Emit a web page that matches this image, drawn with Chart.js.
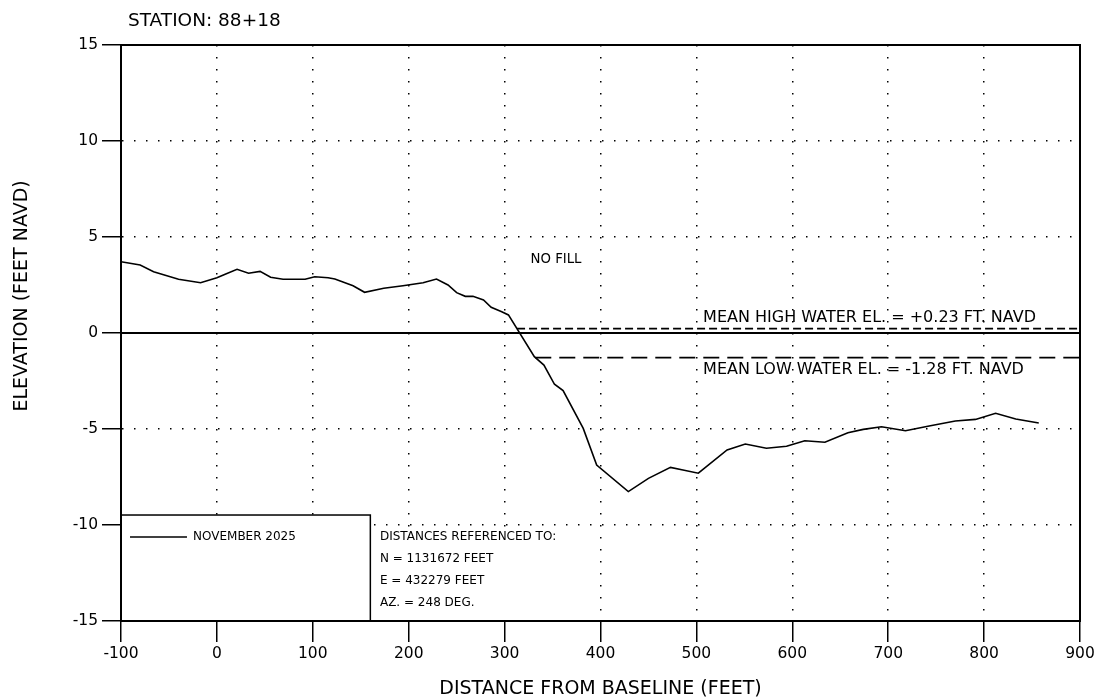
<!DOCTYPE html>
<html>
<head>
<meta charset="utf-8">
<script src="https://cdn.jsdelivr.net/npm/chart.js@4.4.0/dist/chart.umd.min.js"></script>
<style>
  body { margin: 0; background: #fff; }
  canvas { display: block; }
</style>
</head>
<body>
<canvas id="profile" width="1102" height="700"></canvas>
<script>
// profile survey (distance from baseline, elevation)
var distance = [-100, -80, -66, -40, -17, 0, 8, 21, 33, 45, 56, 69, 92, 102, 116, 123, 142, 154, 174, 194,
  215, 229, 241, 250, 259, 267, 278, 286, 297, 304, 331, 341, 352, 361, 382, 396, 429, 450, 473, 486,
  502, 532, 551, 573, 594, 613, 634, 658, 674, 693, 718, 744, 770, 791, 812, 833, 857];
var elevation = [3.71, 3.54, 3.19, 2.8, 2.62, 2.88, 3.05, 3.32, 3.11, 3.21, 2.9, 2.8, 2.8, 2.93, 2.88, 2.81, 2.46, 2.12, 2.33, 2.46,
  2.62, 2.81, 2.5, 2.1, 1.91, 1.91, 1.72, 1.34, 1.11, 0.94, -1.23, -1.67, -2.67, -3.0, -4.97, -6.88, -8.26, -7.57, -7.0, -7.14,
  -7.3, -6.09, -5.78, -6.0, -5.9, -5.61, -5.69, -5.19, -5.02, -4.88, -5.09, -4.83, -4.58, -4.5, -4.18, -4.48, -4.69];

// water levels
var mhwElev = 0.23;
var mhwFrom = 313;
var mlwElev = -1.28;
var mlwFrom = 332;

// axes
var xMin = -100, xMax = 900, xStep = 100;
var yMin = -15, yMax = 15, yStep = 5;

var stationLabel = 'STATION: 88+18';
var surveyLabel = 'NOVEMBER 2025';
var refLines = ['DISTANCES REFERENCED TO:', 'N = 1131672 FEET', 'E = 432279 FEET', 'AZ. = 248 DEG.'];
var mhwText = 'MEAN HIGH WATER EL. = +0.23 FT. NAVD';
var mlwText = 'MEAN LOW WATER EL. = -1.28 FT. NAVD';
var fillText = 'NO FILL';
var yTitle = 'ELEVATION (FEET NAVD)';

const FONT = '"DejaVu Sans", Verdana, sans-serif';

var profilePts = distance.map((d, i) => ({ x: d, y: elevation[i] }));

// labels, legend box and frame
const extras = {
  id: 'extras',
  afterDatasetsDraw(chart) {
    const c = chart.ctx;
    const xs = chart.scales.x, ys = chart.scales.y;
    const area = chart.chartArea;
    const X = v => xs.getPixelForValue(v);
    const Y = v => ys.getPixelForValue(v);
    c.save();
    c.fillStyle = '#000';
    c.textBaseline = 'middle';
    c.textAlign = 'left';

    c.font = '13.3px ' + FONT;
    c.fillText(fillText, X(327), Y(3.85));

    c.font = '16px ' + FONT;
    c.fillText(mhwText, X(507), Y(0.78));
    c.fillText(mlwText, X(507), Y(-1.93));

    // blank area behind the reference notes (keeps the -10 row)
    c.fillStyle = '#fff';
    c.fillRect(X(160), Y(-10) + 4, X(395) - X(160), area.bottom - Y(-10) - 5);

    // legend box
    const bx0 = X(-100), bx1 = X(160), by0 = Y(-9.48), by1 = Y(-15);
    c.fillRect(bx0, by0, bx1 - bx0, by1 - by0);
    c.strokeStyle = '#000';
    c.lineWidth = 1.5;
    c.strokeRect(bx0, by0, bx1 - bx0, by1 - by0);
    c.fillStyle = '#000';
    c.beginPath();
    c.lineWidth = 1.5;
    c.moveTo(X(-90.6), Y(-10.63));
    c.lineTo(X(-31.2), Y(-10.63));
    c.stroke();
    c.font = '12px ' + FONT;
    c.fillText(surveyLabel, X(-24.9), Y(-10.63));

    const rowY = [-10.63, -11.77, -12.92, -14.06];
    refLines.forEach((t, i) => c.fillText(t, X(170), Y(rowY[i])));

    // frame
    c.lineWidth = 2;
    c.strokeRect(area.left, area.top, area.right - area.left, area.bottom - area.top);

    c.font = '18.5px ' + FONT;
    c.fillText(stationLabel, area.left + 7, area.top - 24);

    // y axis title, sits a bit above the middle
    c.font = '19px ' + FONT;
    c.textAlign = 'center';
    c.translate(area.left - 99, Y(1.93));
    c.rotate(-Math.PI / 2);
    c.fillText(yTitle, 0, 0);
    c.restore();
  }
};

new Chart('profile', {
  type: 'line',
  data: {
    datasets: [
      {
        label: surveyLabel,
        data: profilePts,
        borderColor: '#000',
        borderWidth: 1.6,
        pointRadius: 0,
        tension: 0
      },
      {
        label: 'zero',
        data: [{ x: xMin, y: 0 }, { x: xMax, y: 0 }],
        borderColor: '#000',
        borderWidth: 2,
        pointRadius: 0
      },
      {
        label: 'MHW',
        data: [{ x: mhwFrom, y: mhwElev }, { x: xMax, y: mhwElev }],
        borderColor: '#000',
        borderWidth: 1.8,
        borderDash: [8, 4],
        pointRadius: 0
      },
      {
        label: 'MLW',
        data: [{ x: mlwFrom, y: mlwElev }, { x: xMax, y: mlwElev }],
        borderColor: '#000',
        borderWidth: 1.8,
        borderDash: [16, 8],
        pointRadius: 0
      }
    ]
  },
  options: {
    responsive: false,
    animation: false,
    layout: { padding: { top: 45, right: 22, left: 0, bottom: 0 } },
    plugins: {
      legend: { display: false },
      tooltip: { enabled: false }
    },
    scales: {
      x: {
        type: 'linear',
        min: xMin,
        max: xMax,
        afterFit: s => { s.height = 79; },
        ticks: {
          stepSize: xStep,
          color: '#000',
          padding: 3,
          maxRotation: 0,
          font: { family: FONT, size: 15.5 }
        },
        grid: {
          color: '#000',
          lineWidth: 1.5,
          tickLength: 21,
          tickColor: '#000',
          tickWidth: 1.5,
          tickBorderDash: []
        },
        border: { display: true, color: '#000', width: 2, dash: [1.5, 10.5] },
        title: {
          display: true,
          text: 'DISTANCE FROM BASELINE (FEET)',
          color: '#000',
          padding: 0,
          font: { family: FONT, size: 19 }
        }
      },
      y: {
        type: 'linear',
        min: yMin,
        max: yMax,
        afterFit: s => { s.width = 121; },
        ticks: {
          stepSize: yStep,
          color: '#000',
          padding: 4,
          font: { family: FONT, size: 15.5 }
        },
        grid: {
          color: ctx => (ctx.tick && ctx.tick.value === 0 ? 'rgba(0,0,0,0)' : '#000'),
          lineWidth: 1.5,
          tickLength: 19,
          tickColor: '#000',
          tickWidth: 1.5,
          tickBorderDash: []
        },
        border: { display: true, color: '#000', width: 2, dash: [1.5, 10.5] },
        title: { display: false }
      }
    }
  },
  plugins: [extras]
});
</script>
</body>
</html>
